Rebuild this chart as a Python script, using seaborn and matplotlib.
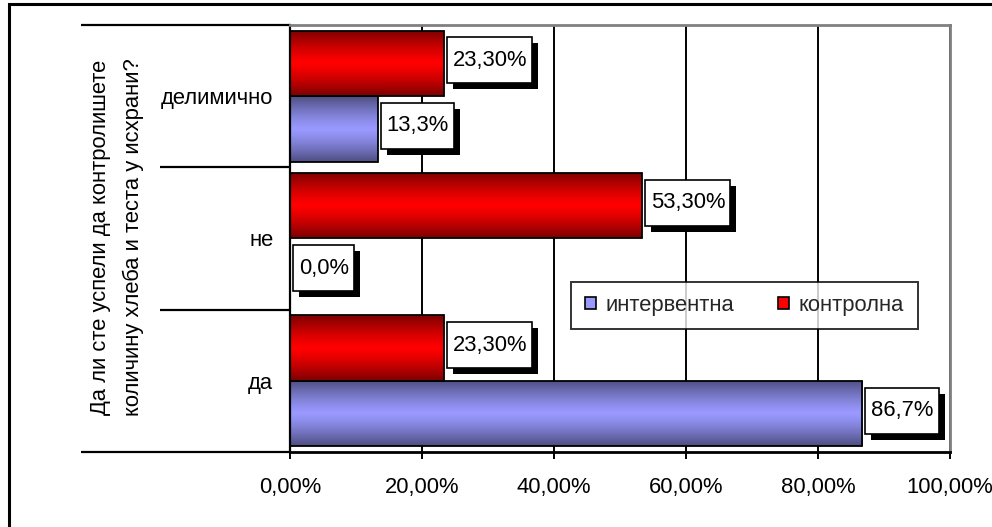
import numpy as np
import pandas as pd
import matplotlib
matplotlib.use("Agg")
import matplotlib.pyplot as plt
import seaborn as sns
from matplotlib.patches import Rectangle, Patch
from matplotlib.transforms import IdentityTransform, offset_copy
from matplotlib.ticker import FuncFormatter

# ---------------- data ----------------
categories = ["делимично", "не", "да"]
series = ["интервентна", "контролна"]
intervention = [13.3, 0.0, 86.7]
control = [23.3, 53.3, 23.3]
x_ticks = [0, 20, 40, 60, 80, 100]
y_title = "Да ли сте успели да контролишете\nколичину хлеба и теста у исхрани?"

df = pd.DataFrame({
    "category": categories * 2,
    "group": [series[1]] * 3 + [series[0]] * 3,
    "value": control + intervention,
})

# ---------------- style ----------------
sns.set_theme(style="white")
plt.rcParams["font.family"] = ["Liberation Sans", "DejaVu Sans"]
FS = 15.8

W, H, DPI = 992, 527, 100
fig = plt.figure(figsize=(W / DPI, H / DPI), dpi=DPI)
fig.patch.set_facecolor("white")

left_px, right_px, top_px, bottom_px = 290, 950, 25, 452
ax = fig.add_axes([left_px / W, 1 - bottom_px / H,
                   (right_px - left_px) / W, (bottom_px - top_px) / H])

colors = {series[1]: "#FF0000", series[0]: "#9999FF"}
dark = {series[1]: "#7A0000", series[0]: "#4D4D80"}
hue_order = [series[1], series[0]]

sns.barplot(data=df, y="category", x="value", hue="group", order=categories,
            hue_order=hue_order, orient="h", width=0.92, palette=colors,
            edgecolor="black", linewidth=1.3, legend=False, ax=ax, zorder=2)

ax.set_xlim(0, 100)
ax.set_ylim(2.5, -0.5)
ax.set_axisbelow(True)
ax.set_xticks(x_ticks)
ax.xaxis.set_major_formatter(FuncFormatter(lambda v, p: f"{v:.2f}%".replace(".", ",")))
ax.grid(axis="x", color="black", linewidth=1.4)
ax.grid(axis="y", visible=False)
ax.set_xlabel("")
ax.set_ylabel("")
ax.tick_params(axis="x", length=5, width=1.4, color="black", pad=13,
               labelsize=FS, bottom=True, direction="out")
ax.tick_params(axis="y", length=0, pad=12, labelsize=FS)
for lab in ax.get_xticklabels() + ax.get_yticklabels():
    lab.set_color("black")

ax.spines["left"].set_color("black")
ax.spines["left"].set_linewidth(1.6)
ax.spines["bottom"].set_color("black")
ax.spines["bottom"].set_linewidth(2.0)
for s in ("top", "right"):
    ax.spines[s].set_color("#808080")
    ax.spines[s].set_linewidth(2.0)

# gradient fills clipped to each bar
def grad_img(c_mid, c_edge, n=256):
    t = np.abs(np.linspace(-1, 1, n)) ** 1.3
    a = np.array(matplotlib.colors.to_rgb(c_mid))
    b = np.array(matplotlib.colors.to_rgb(c_edge))
    rows = a[None, :] * (1 - t[:, None]) + b[None, :] * t[:, None]
    return rows[:, None, :]

for container, grp in zip(ax.containers, hue_order):
    img = grad_img(colors[grp], dark[grp])
    for patch in container.patches:
        x0, y0 = patch.get_x(), patch.get_y()
        w, h = patch.get_width(), patch.get_height()
        if w <= 0:
            continue
        im = ax.imshow(img, extent=[x0, x0 + w, y0 + h, y0], aspect="auto",
                       interpolation="bilinear", zorder=1.9)
        im.set_clip_path(patch)
        patch.set_facecolor("none")

ax.set_xlim(0, 100)
ax.set_ylim(2.5, -0.5)

# category separator lines extending to the left
ytr = ax.get_yaxis_transform()
for b in [-0.5, 0.5, 1.5, 2.5]:
    x_start = (81 - left_px) / (right_px - left_px) if b in (-0.5, 2.5) else (160 - left_px) / (right_px - left_px)
    ax.plot([x_start, 0], [b, b], color="black", lw=1.6, transform=ytr,
            clip_on=False, solid_capstyle="butt")

# value labels
texts = []
for container, grp in zip(ax.containers, hue_order):
    for patch in container.patches:
        v = patch.get_width()
        yc = patch.get_y() + patch.get_height() / 2
        lab = (f"{v:.2f}%" if grp == series[1] else f"{v:.1f}%").replace(".", ",")
        tr = offset_copy(ax.transData, fig=fig, x=9, y=3, units="dots")
        t = ax.text(v, yc, lab, ha="left", va="center", fontsize=FS,
                    color="black", transform=tr, zorder=6)
        texts.append(t)

fig.canvas.draw()
renderer = fig.canvas.get_renderer()
for t in texts:
    bb = t.get_window_extent(renderer)
    cy = (bb.y0 + bb.y1) / 2
    bx0, bx1 = bb.x0 - 6, bb.x1 + 5
    by0, by1 = cy - 23, cy + 23
    shadow = Rectangle((bx0 + 6, by0 - 6), bx1 - bx0, by1 - by0,
                       transform=IdentityTransform(), facecolor="black",
                       edgecolor="black", lw=0, zorder=4)
    box = Rectangle((bx0, by0), bx1 - bx0, by1 - by0,
                    transform=IdentityTransform(), facecolor="white",
                    edgecolor="black", lw=1.2, zorder=5)
    fig.add_artist(shadow)
    fig.add_artist(box)
    t.remove()
    fig.text((bb.x0) / W, cy / H, t.get_text(), ha="left", va="center",
             fontsize=FS, color="black", zorder=7)

# legend
handles = [Patch(facecolor=colors[series[0]], edgecolor="black", lw=1.2, label=series[0]),
           Patch(facecolor=colors[series[1]], edgecolor="black", lw=1.2, label=series[1])]
leg = ax.legend(handles=handles, loc="center", ncol=2,
                bbox_to_anchor=((744.5 - left_px) / (right_px - left_px),
                                (bottom_px - 305.5) / (bottom_px - top_px)),
                frameon=True, fancybox=False, edgecolor="black", fontsize=FS,
                handlelength=0.5, handleheight=0.5, handletextpad=0.45,
                columnspacing=2.0, borderpad=0.6)
leg.get_frame().set_linewidth(1.4)
leg.set_zorder(8)

# y title
fig.text(117 / W, 1 - 237 / H, y_title, rotation=90, ha="center", va="center",
         multialignment="center", fontsize=FS, linespacing=1.7, color="black")

# outer frame
fig.add_artist(Rectangle((9 / W, -0.2), 1.2, 1 - 4 / H + 0.2, transform=fig.transFigure,
                         fill=False, edgecolor="black", lw=2.2))

fig.savefig("out.png", dpi=DPI)
